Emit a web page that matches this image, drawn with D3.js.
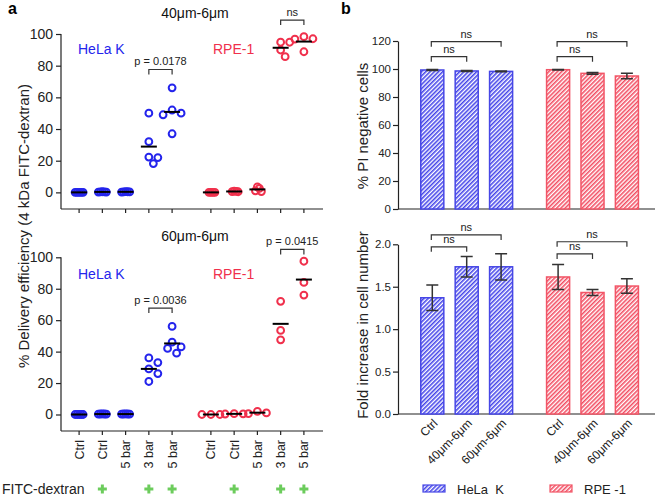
<!DOCTYPE html>
<html>
<head>
<meta charset="utf-8">
<script src="https://cdn.jsdelivr.net/npm/d3@7"></script>
<style>
  body { margin: 0; background: #fff; }
  svg { display: block; font-family: "Liberation Sans", Arial, sans-serif; }
  text { white-space: pre; }
</style>
</head>
<body>
<svg width="661" height="497"></svg>
<script>
// ---- data (panel a) ----
const groups = ['HeLa K', 'RPE-1'];
const conditions = ['Ctrl', 'Ctrl', '5 bar', '3 bar', '5 bar'];
const dextran = [false, true, false, true, true];

// 40um-6um, per condition
const hela40 = [
  [0, 0, 0, 0, 0],
  [0.2, 0.3, 0.4, 0.3, 0.2],
  [0.3, 0.4, 0.2, 0.3, 0.5],
  [50, 32, 22.3, 22, 18.2],
  [66, 52, 50, 49, 37]
];
const rpe40 = [
  [0, 0, 0, 0],
  [0.4, 0.6, 0.5, 0.8],
  [0.5, 1, 2.5, 3.5],
  [94.8, 94.8, 89.9, 85.7],
  [96.8, 97, 98.3, 88.8]
];
// 60um-6um
const hela60 = [
  [0, 0, 0, 0, 0],
  [0.2, 0.3, 0.4, 0.3, 0.2],
  [0.3, 0.2, 0.4, 0.3, 0.2],
  [36, 33, 29, 26, 21],
  [56, 46, 43, 42, 39]
];
const rpe60 = [
  [0, 0, 0],
  [0.3, 0.5, 0.4],
  [2, 1, 0.5],
  [72, 53.5, 47.5],
  [97.5, 84, 76]
];
const yTicksA = [0, 20, 40, 60, 80, 100];
// brackets: [group, fromIdx, toIdx, yValue, label]
const brackets40 = [['HeLa K', 3, 4, 77.6, 'p = 0.0178'], ['RPE-1', 3, 4, 108.8, 'ns']];
const brackets60 = [['HeLa K', 3, 4, 67.7, 'p = 0.0036'], ['RPE-1', 3, 4, 105, 'p = 0.0415']];

// ---- data (panel b) ----
const sizes = ['Ctrl', '40μm-6μm', '60μm-6μm'];
const piHela = [99.3, 98.6, 98.3];
const piHelaErr = [0.3, 0.3, 0.3];
const piRpe = [99.5, 96.9, 95.0];
const piRpeErr = [0.2, 0.6, 1.9];
const foldHela = [1.37, 1.735, 1.735];
const foldHelaErr = [0.15, 0.12, 0.155];
const foldRpe = [1.615, 1.432, 1.508];
const foldRpeErr = [0.147, 0.034, 0.085];
const piTicks = [0, 20, 40, 60, 80, 100, 120];
const foldTicks = [0, 0.5, 1, 1.5, 2];
const bracketsPI = [['HeLa K', 0, 1, 108.8], ['HeLa K', 0, 2, 119.5], ['RPE-1', 0, 1, 108.8], ['RPE-1', 0, 2, 119.5]];
const bracketsFold = [['HeLa K', 0, 1, 1.97], ['HeLa K', 0, 2, 2.11], ['RPE-1', 0, 1, 1.886], ['RPE-1', 0, 2, 2.03]];

const blue = '#2424ec', red = '#f0304c';
const barBlue = '#4646e6', barRed = '#f25566';
const svg = d3.select('svg');

// hatch patterns
const defs = svg.append('defs');
[['hatch-blue', '#3a3ae8'], ['hatch-red', '#f2445a']].forEach(([id, c]) => {
  const p = defs.append('pattern').attr('id', id)
    .attr('patternUnits', 'userSpaceOnUse')
    .attr('width', 3).attr('height', 3)
    .attr('patternTransform', 'rotate(45)');
  p.append('rect').attr('width', 3).attr('height', 3).attr('fill', '#fff');
  p.append('line').attr('x1', 0.8).attr('y1', 0).attr('x2', 0.8).attr('y2', 3)
    .attr('stroke', c).attr('stroke-width', 1.5);
});

// ---------- panel a ----------
const gxA = d3.scalePoint().domain(groups).range([125.6, 257.4]);
const cxA = d3.scalePoint().domain(d3.range(conditions.length)).range([-46.5, 46.5]);

function swarm(vals, y) {
  const s = 4.5, minD = 7.5;
  const order = d3.range(vals.length).sort((a, b) => vals[b] - vals[a]);
  const placed = [];
  const off = vals.map(() => 0);
  order.forEach(i => {
    const py = y(vals[i]);
    for (let k = 0; k < 40; k++) {
      const dx = k === 0 ? 0 : (k % 2 ? 1 : -1) * Math.ceil(k / 2) * s;
      if (placed.every(p => Math.hypot(p.x - dx, p.y - py) >= minD)) {
        off[i] = dx; placed.push({ x: dx, y: py }); break;
      }
    }
  });
  const m = d3.max(off, Math.abs);
  return m > 10 ? off.map(o => o * 4 / m) : off;
}

function scatterPanel(cfg) {
  const y = d3.scaleLinear().domain([-10.5, 100]).range(cfg.yr);
  const g = svg.append('g');
  g.append('g').attr('transform', 'translate(61,0)')
    .call(d3.axisLeft(y).tickValues(yTicksA).tickSize(5).tickSizeOuter(0).tickPadding(3))
    .call(a => a.select('.domain').attr('d', `M0,${cfg.yr[0]}V${y(100)}`))
    .call(a => a.selectAll('text').attr('font-size', 14).attr('fill', '#222').attr('font-family', null))
    .call(a => a.selectAll('line,path').attr('stroke', '#222').attr('stroke-width', 1.2));

  const xs = [];
  groups.forEach(gr => conditions.forEach((c, i) => xs.push(gxA(gr) + cxA(i))));
  const xa = g.append('g').attr('transform', `translate(0,${cfg.yr[0]})`);
  xa.append('line').attr('x1', 61).attr('x2', 323).attr('stroke', '#222').attr('stroke-width', 1.2);
  xa.selectAll('line.t').data(xs).enter().append('line').attr('class', 't')
    .attr('x1', d => d).attr('x2', d => d).attr('y2', 4).attr('stroke', '#222').attr('stroke-width', 1.2);

  g.append('text').attr('x', 195).attr('y', cfg.yr[1] - 16).attr('text-anchor', 'middle')
    .attr('font-size', 14).attr('fill', '#111').text(cfg.title);
  g.append('text').attr('x', 78).attr('y', cfg.labelY).attr('font-size', 14).attr('fill', blue).text('HeLa K');
  g.append('text').attr('x', 213).attr('y', cfg.labelY).attr('font-size', 14).attr('fill', red).text('RPE-1');

  [['HeLa K', cfg.hela, blue], ['RPE-1', cfg.rpe, red]].forEach(([gr, sets, col]) => {
    sets.forEach((vals, i) => {
      const x0 = gxA(gr) + cxA(i);
      const off = swarm(vals, y);
      g.selectAll(null).data(vals).enter().append('circle')
        .attr('cx', (d, j) => x0 + off[j]).attr('cy', d => y(d)).attr('r', 3.4)
        .attr('fill', 'none').attr('stroke', col).attr('stroke-width', 2);
      const m = d3.mean(vals);
      g.append('line').attr('x1', x0 - 8).attr('x2', x0 + 8).attr('y1', y(m)).attr('y2', y(m))
        .attr('stroke', '#000').attr('stroke-width', 2);
    });
  });

  cfg.brackets.forEach(([gr, a, b, v, lab]) => {
    const x1 = gxA(gr) + cxA(a), x2 = gxA(gr) + cxA(b), yy = y(v);
    g.append('path').attr('d', `M${x1},${yy + 5}V${yy}H${x2}V${yy + 5}`)
      .attr('fill', 'none').attr('stroke', '#333').attr('stroke-width', 1.2);
    g.append('text').attr('x', (x1 + x2) / 2).attr('y', yy - 4).attr('text-anchor', 'middle')
      .attr('font-size', 11).attr('fill', '#222').text(lab);
  });
  return xs;
}

scatterPanel({ yr: [209, 34], title: '40μm-6μm', labelY: 54, hela: hela40, rpe: rpe40, brackets: brackets40 });
const xsA = scatterPanel({ yr: [431, 257.3], title: '60μm-6μm', labelY: 279, hela: hela60, rpe: rpe60, brackets: brackets60 });

// x labels
svg.append('g').selectAll('text').data(xsA).enter().append('text')
  .attr('transform', d => `translate(${d + 4.5},${440}) rotate(-90)`)
  .attr('text-anchor', 'end').attr('font-size', 12.5).attr('fill', '#222')
  .text((d, i) => conditions[i % conditions.length]);

// FITC-dextran row
svg.append('text').attr('x', 2).attr('y', 494).attr('font-size', 14).attr('fill', '#222').text('FITC-dextran');
const plus = svg.append('g').attr('stroke', '#6ccc5c').attr('stroke-width', 3);
xsA.forEach((x, i) => {
  if (!dextran[i % dextran.length]) return;
  plus.append('line').attr('x1', x - 4.5).attr('x2', x + 4.5).attr('y1', 489).attr('y2', 489);
  plus.append('line').attr('x1', x).attr('x2', x).attr('y1', 484.5).attr('y2', 493.5);
});

svg.append('text').attr('transform', 'translate(29,226) rotate(-90)').attr('text-anchor', 'middle')
  .attr('font-size', 15).attr('fill', '#222').text('% Delivery efficiency (4 kDa FITC-dextran)');
svg.append('text').attr('x', 8).attr('y', 14).attr('font-size', 16).attr('font-weight', 'bold').text('a');
svg.append('text').attr('x', 341).attr('y', 14).attr('font-size', 16).attr('font-weight', 'bold').text('b');

// ---------- panel b ----------
const gxB = d3.scalePoint().domain(groups).range([466.7, 592.5]);
const cxB = d3.scaleBand().domain(sizes).range([-51.6, 51.6]).paddingInner(0.33).paddingOuter(0.165);

function barPanel(cfg) {
  const y = d3.scaleLinear().domain(cfg.domain).range(cfg.yr);
  const g = svg.append('g');
  g.append('g').attr('transform', 'translate(398,0)')
    .call(d3.axisLeft(y).tickValues(cfg.ticks).tickFormat(cfg.fmt).tickSize(5).tickSizeOuter(0).tickPadding(2))
    .call(a => a.selectAll('text').attr('font-size', 11.5).attr('fill', '#222').attr('font-family', null))
    .call(a => a.selectAll('line,path').attr('stroke', '#222').attr('stroke-width', 1.2));
  g.append('line').attr('x1', 398).attr('x2', 655).attr('y1', cfg.yr[0]).attr('y2', cfg.yr[0])
    .attr('stroke', '#222').attr('stroke-width', 1.2);

  [['HeLa K', cfg.hela, cfg.helaErr, barBlue, 'hatch-blue'], ['RPE-1', cfg.rpe, cfg.rpeErr, barRed, 'hatch-red']]
    .forEach(([gr, vals, errs, col, pat]) => {
      vals.forEach((v, i) => {
        const x0 = gxB(gr) + cxB(sizes[i]), bw = cxB.bandwidth(), xc = x0 + bw / 2;
        g.append('rect').attr('x', x0).attr('y', y(v)).attr('width', bw).attr('height', y(0) - y(v))
          .attr('fill', `url(#${pat})`).attr('stroke', col).attr('stroke-width', 1.5);
        const lo = y(v - errs[i]), hi = y(v + errs[i]);
        g.append('path').attr('d', `M${xc},${lo}V${hi}M${xc - 6},${hi}H${xc + 6}M${xc - 6},${lo}H${xc + 6}`)
          .attr('fill', 'none').attr('stroke', '#333').attr('stroke-width', 1.5);
      });
    });

  cfg.brackets.forEach(([gr, a, b, v]) => {
    const x1 = gxB(gr) + cxB(sizes[a]) + cxB.bandwidth() / 2 - 1;
    const x2 = gxB(gr) + cxB(sizes[b]) + cxB.bandwidth() / 2;
    const yy = y(v);
    g.append('path').attr('d', `M${x1},${yy + 5}V${yy}H${x2}V${yy + 5}`)
      .attr('fill', 'none').attr('stroke', '#333').attr('stroke-width', 1.2);
    g.append('text').attr('x', (x1 + x2) / 2).attr('y', yy - 4).attr('text-anchor', 'middle')
      .attr('font-size', 11).attr('fill', '#222').text('ns');
  });

  g.append('text').attr('transform', `translate(368,${cfg.titleY}) rotate(-90)`).attr('text-anchor', 'middle')
    .attr('font-size', 15).attr('fill', '#222').text(cfg.title);
}

barPanel({ domain: [0, 120], yr: [209, 41], ticks: piTicks, fmt: d3.format('d'),
  hela: piHela, helaErr: piHelaErr, rpe: piRpe, rpeErr: piRpeErr, brackets: bracketsPI,
  title: '% PI negative cells', titleY: 126 });
barPanel({ domain: [0, 2], yr: [414, 244.3], ticks: foldTicks, fmt: d3.format('.1f'),
  hela: foldHela, helaErr: foldHelaErr, rpe: foldRpe, rpeErr: foldRpeErr, brackets: bracketsFold,
  title: 'Fold increase in cell number', titleY: 325 });

// rotated x labels for panel b
const xb = [];
groups.forEach(gr => sizes.forEach(s => xb.push([gxB(gr) + cxB(s) + cxB.bandwidth() / 2, s])));
svg.append('g').selectAll('text').data(xb).enter().append('text')
  .attr('transform', d => `translate(${d[0] + 6},${424}) rotate(-45)`)
  .attr('text-anchor', 'end').attr('font-size', 12).attr('fill', '#222').text(d => d[1]);

// legend
const legend = svg.append('g');
[['HeLa  K', barBlue, 'hatch-blue', 423], ['RPE -1', barRed, 'hatch-red', 550]].forEach(([lab, col, pat, x]) => {
  legend.append('rect').attr('x', x).attr('y', 485).attr('width', 22).attr('height', 7)
    .attr('fill', `url(#${pat})`).attr('stroke', col).attr('stroke-width', 1.2);
  legend.append('text').attr('x', x + 34).attr('y', 494).attr('font-size', 13).attr('fill', '#222').text(lab);
});
</script>
</body>
</html>
